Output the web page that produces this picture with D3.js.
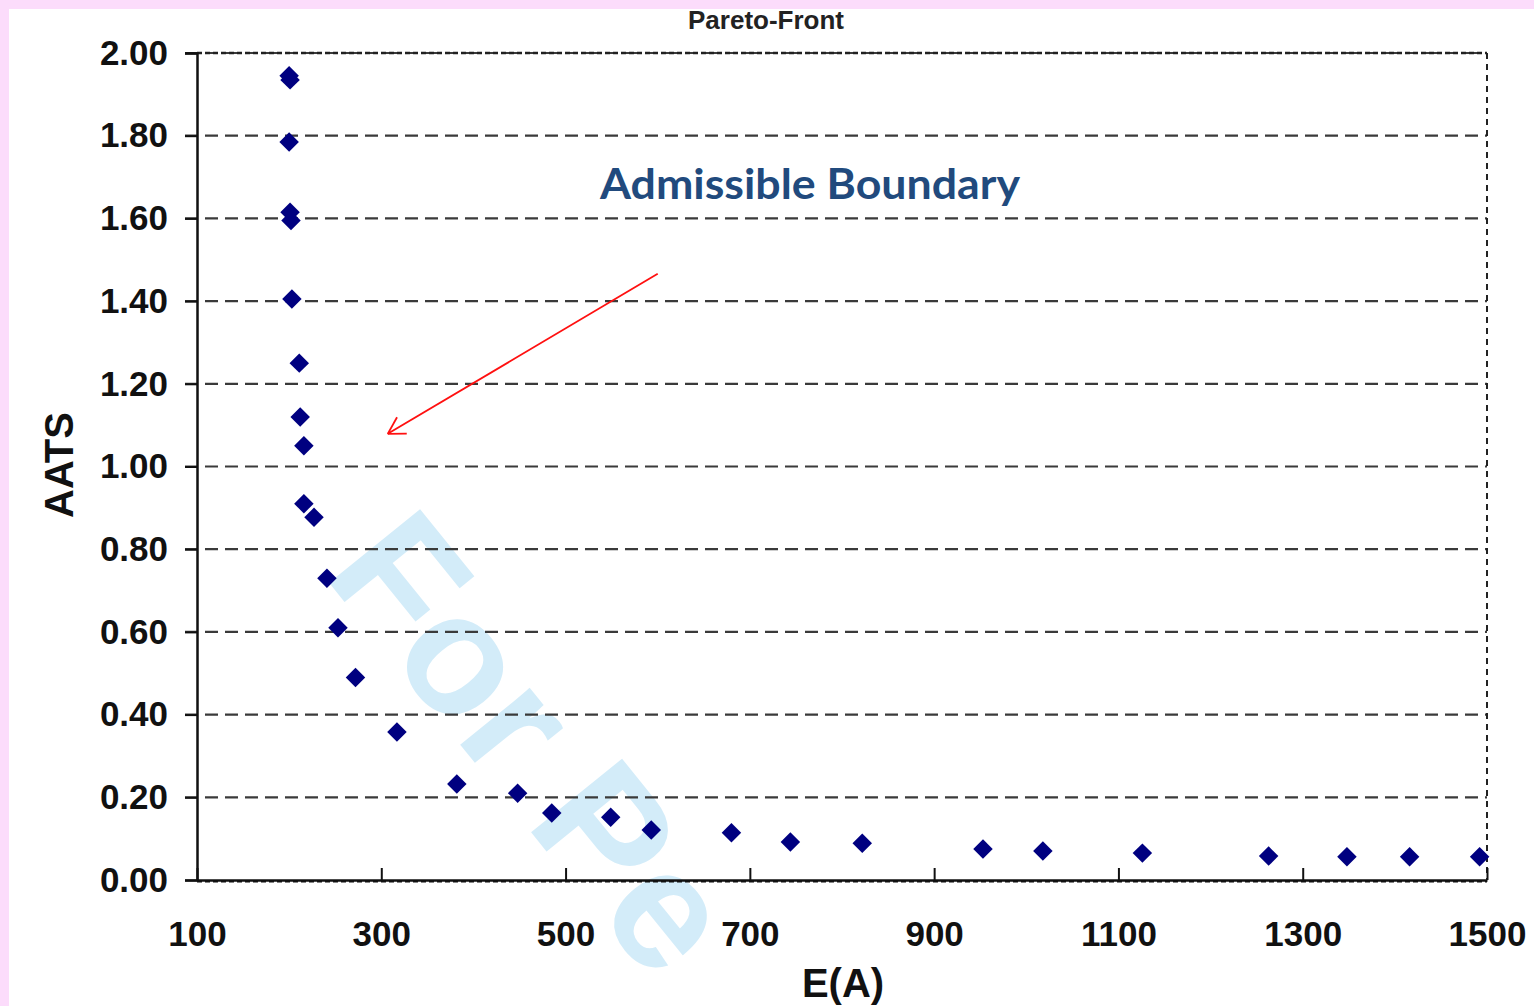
<!DOCTYPE html>
<html>
<head>
<meta charset="utf-8">
<style>
  body { margin: 0; background: #fcdcfb; }
  svg { display: block; }
  .tick text { font: bold 35px "Liberation Sans", Arial, sans-serif; fill: #111; }
  .title { font: bold 26px "Liberation Sans", Arial, sans-serif; fill: #222; }
  .axis-title { font: bold 40px "Liberation Sans", Arial, sans-serif; fill: #111; }
  .note { font: bold 42px Lato, "Open Sans", sans-serif; fill: #214a7d; }
  .watermark { font: bold 170px "Liberation Sans", Arial, sans-serif; fill: #d3ecf9; }
</style>
<script src="https://d3js.org/d3.v7.min.js"></script>
</head>
<body>
<svg width="1534" height="1006"></svg>
<script>
// Pareto front points: E(A) and AATS
var ea   = [200, 201, 200, 201, 202, 203, 211, 212, 216, 216, 227, 241, 253, 272, 317, 382, 448, 485, 549, 593, 680, 744, 822, 953, 1018, 1126, 1263, 1348, 1416, 1492];
var aats = [1.945, 1.935, 1.785, 1.615, 1.595, 1.405, 1.25, 1.12, 1.05, 0.91, 0.877, 0.73, 0.61, 0.49, 0.358, 0.232, 0.21, 0.162, 0.152, 0.121, 0.114, 0.092, 0.089, 0.075, 0.07, 0.065, 0.058, 0.056, 0.056, 0.056];

var xTicks = [100, 300, 500, 700, 900, 1100, 1300, 1500];
var yTicks = [0, 0.2, 0.4, 0.6, 0.8, 1.0, 1.2, 1.4, 1.6, 1.8, 2.0];

// annotation arrow (data units): from label towards the front
var arrowFrom = [600, 1.466];
var arrowTo = [307, 1.079];

var svg = d3.select("svg");
svg.append("rect").attr("x", 9).attr("y", 9).attr("width", 1525).attr("height", 997).attr("fill", "#fff");

var x = d3.scaleLinear().domain([100, 1500]).range([197, 1487]);
var y = d3.scaleLinear().domain([0, 2]).range([880, 53]);

// watermark behind everything
svg.append("text").attr("class", "watermark")
  .attr("transform", "translate(322,574) rotate(51)")
  .text("For Pe");

// gridlines
svg.append("g").selectAll("line")
  .data(yTicks.filter(function (d) { return d > 0; }))
  .enter().append("line")
  .attr("x1", 185).attr("x2", x(1500))
  .attr("y1", function (d) { return y(d); }).attr("y2", function (d) { return y(d); })
  .attr("stroke", "#3a3a3a").attr("stroke-width", 2.2)
  .attr("stroke-dasharray", "13,7");

// frame: dotted top and right
svg.append("line").attr("x1", x(100)).attr("x2", x(1500)).attr("y1", y(2)).attr("y2", y(2))
  .attr("stroke", "#222").attr("stroke-width", 2.5).attr("stroke-dasharray", "5,3");
svg.append("line").attr("x1", x(1500)).attr("x2", x(1500)).attr("y1", y(2)).attr("y2", y(0))
  .attr("stroke", "#222").attr("stroke-width", 2).attr("stroke-dasharray", "6,5");

// y axis
var yAxis = svg.append("g").attr("transform", "translate(" + x(100) + ",0)")
  .call(d3.axisLeft(y).tickValues(yTicks).tickFormat(d3.format(".2f")).tickSize(12).tickPadding(17));
yAxis.select(".domain").attr("stroke", "#111").attr("stroke-width", 2.5);
yAxis.selectAll(".tick line").attr("stroke", "#111").attr("stroke-width", 2);

// x axis
var xAxis = svg.append("g").attr("transform", "translate(0," + y(0) + ")")
  .call(d3.axisBottom(x).tickValues(xTicks).tickFormat(d3.format("d")).tickSizeInner(-12).tickSizeOuter(0).tickPadding(41));
xAxis.select(".domain").attr("stroke", "#111").attr("stroke-width", 2.5);
xAxis.selectAll(".tick line").attr("stroke", "#111").attr("stroke-width", 2);
svg.append("line").attr("x1", x(100)).attr("x2", x(1500)).attr("y1", y(0) + 1.5).attr("y2", y(0) + 1.5)
  .attr("stroke", "#111").attr("stroke-width", 2).attr("stroke-dasharray", "5,3");

// points
var diamond = d3.symbol().type(d3.symbolSquare).size(190);
svg.append("g").selectAll("path")
  .data(ea.map(function (d, i) { return [d, aats[i]]; }))
  .enter().append("path")
  .attr("d", diamond)
  .attr("transform", function (d) { return "translate(" + x(d[0]) + "," + y(d[1]) + ") rotate(45)"; })
  .attr("fill", "#000080");

// titles
svg.append("text").attr("class", "title").attr("x", 766).attr("y", 29)
  .attr("text-anchor", "middle").text("Pareto-Front");
svg.append("text").attr("class", "axis-title").attr("x", 843).attr("y", 997)
  .attr("text-anchor", "middle").text("E(A)");
svg.append("text").attr("class", "axis-title")
  .attr("transform", "translate(73,465) rotate(-90)")
  .attr("text-anchor", "middle").text("AATS");

// annotation
svg.append("text").attr("class", "note").attr("x", 600).attr("y", 199)
  .attr("textLength", 420).attr("lengthAdjust", "spacingAndGlyphs")
  .text("Admissible Boundary");

var ax0 = x(arrowFrom[0]), ay0 = y(arrowFrom[1]), ax1 = x(arrowTo[0]), ay1 = y(arrowTo[1]);
var ang = Math.atan2(ay0 - ay1, ax0 - ax1);
var arrow = svg.append("g").attr("stroke", "#ff1010").attr("stroke-width", 1.8).attr("fill", "none");
arrow.append("line").attr("x1", ax0).attr("y1", ay0).attr("x2", ax1).attr("y2", ay1);
[-Math.PI / 6, Math.PI / 6].forEach(function (a) {
  arrow.append("line").attr("x1", ax1).attr("y1", ay1)
    .attr("x2", ax1 + 19 * Math.cos(ang + a)).attr("y2", ay1 + 19 * Math.sin(ang + a));
});
</script>
</body>
</html>
